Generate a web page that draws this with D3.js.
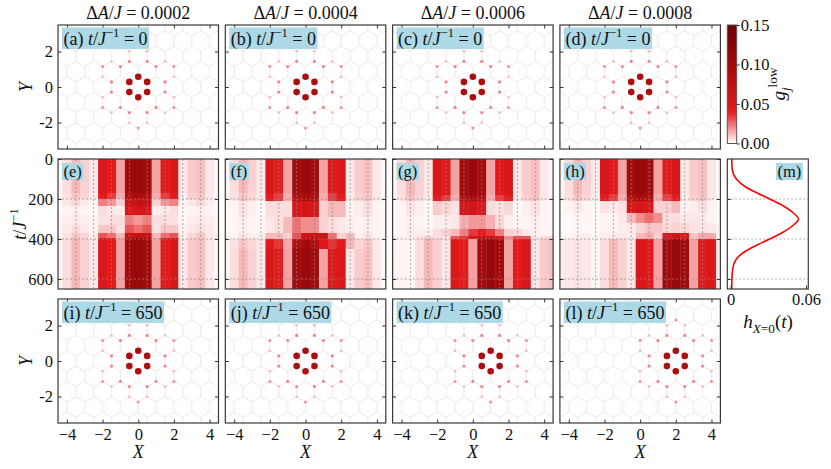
<!DOCTYPE html>
<html>
<head>
  <meta charset="utf-8" />
  <script src="https://d3js.org/d3.v7.min.js"></script>
  <style>
    body { margin: 0; background: #fff; }
    .tick line { stroke: #333; }
  </style>
</head>
<body>
<script>
  // ---- data ----
  var deltaA = ["0.0002", "0.0004", "0.0006", "0.0008"];
  var topLetters = ["a", "b", "c", "d"];
  var midLetters = ["e", "f", "g", "h"];
  var botLetters = ["i", "j", "k", "l"];
  var finalCenter = [0, 0, 1, 2];          // X of the localized state at t = 650
  var xTicks = [-4, -2, 0, 2, 4];
  var yTicks = [-2, 0, 2];
  var tTicks = [0, 200, 400, 600];
  var gridX = [-3.5, -2.5, -1.5, -0.5, 0.5, 1.5, 2.5, 3.5];
  var gridT = [200, 400, 600];
  var cbTicks = [0, 0.05, 0.10, 0.15];

  // sites of the localized state, relative to its plaquette centre: [dX, dY, g]
  var stateSites = [
    [0, 0.577, 0.09], [0.5, 0.289, 0.09], [0.5, -0.289, 0.09],
    [0, -0.577, 0.09], [-0.5, -0.289, 0.09], [-0.5, 0.289, 0.09],
    [1.5, 0.289, 0.021], [1.5, -0.289, 0.021], [-1.5, 0.289, 0.021], [-1.5, -0.289, 0.021],
    [1, 1.155, 0.021], [-1, 1.155, 0.021], [1, -1.155, 0.021], [-1, -1.155, 0.021],
    [0.5, 1.443, 0.021], [-0.5, 1.443, 0.021], [0.5, -1.443, 0.021], [-0.5, -1.443, 0.021],
    [0, 2.309, 0.019], [0, -2.309, 0.019],
    [2, 1.155, 0.019], [-2, 1.155, 0.019], [2, -1.155, 0.019], [-2, -1.155, 0.019],
    [0.5, 2.021, 0.013], [-0.5, 2.021, 0.013], [0.5, -2.021, 0.013], [-0.5, -2.021, 0.013],
    [1.5, 1.443, 0.013], [-1.5, 1.443, 0.013], [1.5, -1.443, 0.013], [-1.5, -1.443, 0.013],
    [2, 0.577, 0.013], [-2, 0.577, 0.013], [2, -0.577, 0.013], [-2, -0.577, 0.013]
  ];

  // heat map columns (site X positions) and time bands [t0, t1, values per column]
  var colX = [-4.5, -4, -3.5, -3, -2.5, -2, -1.5, -1, -0.5, 0, 0.5, 1, 1.5, 2, 2.5, 3, 3.5, 4, 4.5];
  var prof0 = [0.002, 0.006, 0.012, 0.008, 0.004, 0.05, 0.042, 0.016, 0.10, 0.11, 0.10, 0.016, 0.042, 0.05, 0.004, 0.009, 0.011, 0.004, 0.001];
  var profG = [0.002, 0.002, 0.002, 0.006, 0.012, 0.008, 0.004, 0.05, 0.042, 0.016, 0.10, 0.11, 0.10, 0.016, 0.042, 0.05, 0.004, 0.009, 0.011];
  var profH = [0.003, 0.004, 0.005, 0.004, 0.002, 0.006, 0.012, 0.008, 0.004, 0.05, 0.042, 0.016, 0.10, 0.11, 0.10, 0.016, 0.042, 0.05, 0.004];
  var prof1 = [0.002, 0.005, 0.01, 0.007, 0.003, 0.04, 0.034, 0.014, 0.085, 0.095, 0.085, 0.014, 0.034, 0.04, 0.003, 0.008, 0.01, 0.004, 0.001];

  var heatE = [
    [0, 170, prof0],
    [170, 200, prof1],
    [200, 235, [0.001, 0.004, 0.007, 0.004, 0.002, 0.022, 0.018, 0.008, 0.065, 0.07, 0.065, 0.008, 0.018, 0.022, 0.002, 0.004, 0.007, 0.003, 0.001]],
    [235, 280, [0.001, 0.002, 0.003, 0.002, 0.001, 0.006, 0.004, 0.003, 0.05, 0.055, 0.05, 0.003, 0.004, 0.006, 0.001, 0.002, 0.003, 0.002, 0.001]],
    [280, 330, [0.002, 0.003, 0.004, 0.003, 0.002, 0.005, 0.006, 0.006, 0.022, 0.018, 0.022, 0.006, 0.006, 0.005, 0.002, 0.003, 0.004, 0.003, 0.002]],
    [330, 370, [0.002, 0.004, 0.006, 0.004, 0.002, 0.01, 0.01, 0.005, 0.03, 0.025, 0.03, 0.005, 0.01, 0.01, 0.002, 0.004, 0.006, 0.004, 0.002]],
    [370, 395, [0.002, 0.005, 0.01, 0.007, 0.003, 0.03, 0.025, 0.012, 0.065, 0.07, 0.065, 0.012, 0.025, 0.03, 0.003, 0.007, 0.01, 0.004, 0.002]],
    [395, 650, prof0]
  ];
  var heatF = [
    [0, 170, prof0],
    [170, 210, prof1],
    [210, 290, [0.001, 0.002, 0.005, 0.003, 0.001, 0.006, 0.006, 0.006, 0.05, 0.055, 0.05, 0.008, 0.012, 0.012, 0.002, 0.003, 0.006, 0.002, 0.001]],
    [290, 370, [0.001, 0.002, 0.003, 0.002, 0.002, 0.004, 0.006, 0.012, 0.025, 0.02, 0.02, 0.008, 0.006, 0.004, 0.003, 0.002, 0.003, 0.002, 0.001]],
    [370, 400, [0.001, 0.002, 0.005, 0.003, 0.003, 0.012, 0.012, 0.008, 0.03, 0.06, 0.065, 0.06, 0.025, 0.008, 0.012, 0.003, 0.005, 0.002, 0.001]],
    [400, 450, [0.002, 0.005, 0.01, 0.007, 0.004, 0.042, 0.036, 0.015, 0.085, 0.1, 0.085, 0.045, 0.036, 0.042, 0.012, 0.007, 0.01, 0.004, 0.001]],
    [450, 650, prof0]
  ];
  var heatG = [
    [0, 180, prof0],
    [180, 210, prof1],
    [210, 280, [0.001, 0.002, 0.005, 0.003, 0.001, 0.009, 0.007, 0.005, 0.055, 0.06, 0.05, 0.006, 0.005, 0.007, 0.001, 0.003, 0.005, 0.002, 0.001]],
    [280, 350, [0.001, 0.002, 0.003, 0.002, 0.001, 0.003, 0.003, 0.004, 0.014, 0.018, 0.018, 0.014, 0.007, 0.003, 0.002, 0.002, 0.003, 0.002, 0.001]],
    [350, 385, [0.001, 0.002, 0.003, 0.003, 0.003, 0.006, 0.008, 0.012, 0.022, 0.035, 0.04, 0.035, 0.022, 0.008, 0.007, 0.004, 0.003, 0.002, 0.002]],
    [385, 400, [0.002, 0.002, 0.003, 0.005, 0.008, 0.006, 0.005, 0.03, 0.035, 0.055, 0.065, 0.065, 0.055, 0.02, 0.03, 0.03, 0.004, 0.006, 0.008]],
    [400, 650, profG]
  ];
  var heatH = [
    [0, 175, prof0],
    [175, 210, prof1],
    [210, 270, [0.001, 0.002, 0.004, 0.002, 0.001, 0.005, 0.004, 0.005, 0.05, 0.055, 0.05, 0.008, 0.008, 0.012, 0.002, 0.003, 0.006, 0.002, 0.001]],
    [270, 320, [0.001, 0.001, 0.002, 0.002, 0.001, 0.002, 0.002, 0.004, 0.012, 0.02, 0.025, 0.02, 0.006, 0.006, 0.004, 0.004, 0.004, 0.002, 0.001]],
    [320, 370, [0.001, 0.001, 0.002, 0.001, 0.001, 0.002, 0.002, 0.003, 0.004, 0.007, 0.01, 0.01, 0.007, 0.008, 0.007, 0.005, 0.005, 0.004, 0.002]],
    [370, 400, [0.001, 0.002, 0.003, 0.003, 0.001, 0.003, 0.004, 0.004, 0.003, 0.012, 0.015, 0.008, 0.05, 0.06, 0.05, 0.01, 0.015, 0.015, 0.002]],
    [400, 650, profH]
  ];
  var heatData = [heatE, heatF, heatG, heatH];

  // panel (m): h_{X=0}(t)
  var hT = [0, 50, 100, 140, 170, 200, 235, 270, 300, 330, 365, 400, 430, 460, 500, 550, 600, 650];
  var hV = [0.0008, 0.0012, 0.0045, 0.012, 0.021, 0.031, 0.042, 0.050, 0.054, 0.050, 0.042, 0.031, 0.021, 0.012, 0.0045, 0.0016, 0.001, 0.0008];

  // ---- layout ----
  var FONT = "'Liberation Serif'";
  var W = 831, H = 469;
  var panelW = 160.5, panelStep = 167.3, left0 = 58;
  var rowTop = [25, 149], rowMid = [159, 289], rowBot = [299, 423];
  var frameColor = "#3a3a3a";

  var cmap = d3.scaleLinear().domain([0, 0.04, 0.15])
    .range(["#ffffff", "#e41a1c", "#6b0000"]).clamp(true);
  var rScale = d3.scaleSqrt().domain([0, 0.09]).range([0, 3.3]);

  var svg = d3.select("body").append("svg")
    .attr("width", W).attr("height", H)
    .style("font-family", FONT);
  var defs = svg.append("defs");

  function mathText(sel, parts, size) {
    var text = sel.append("text").style("font-size", size + "px").style("font-family", FONT).attr("fill", "#111");
    var shift = 0;
    parts.forEach(function(p) {
      var ts = text.append("tspan").text(p.t);
      var target = p.sup ? -0.42 * size : (p.sub ? 0.28 * size : 0);
      if (target !== shift) { ts.attr("dy", target - shift); shift = target; }
      if (p.i) ts.style("font-style", "italic");
      if (p.sup || p.sub) ts.style("font-size", (size * 0.7) + "px");
    });
    return text;
  }

  function boxLabel(g, parts, x, y, anchor, size) {
    var grp = g.append("g");
    var text = mathText(grp, parts, size || 18).attr("x", x).attr("y", y).attr("text-anchor", anchor || "start");
    var bb = text.node().getBBox();
    grp.insert("rect", "text")
      .attr("x", bb.x - 1.5).attr("y", bb.y + 1.5)
      .attr("width", bb.width + 3).attr("height", bb.height - 2)
      .attr("fill", "#add8e6");
  }

  function clipFor(id, x0, y0, w, h) {
    defs.append("clipPath").attr("id", id).append("rect")
      .attr("x", x0).attr("y", y0).attr("width", w).attr("height", h);
    return "url(#" + id + ")";
  }

  function frame(x0, y0, w, h) {
    svg.append("rect").attr("x", x0).attr("y", y0).attr("width", w).attr("height", h)
      .attr("fill", "none").attr("stroke", frameColor).attr("stroke-width", 1.2);
  }

  function styleAxis(g) {
    g.attr("font-family", null).attr("font-size", null);
    g.select(".domain").remove();
    g.selectAll(".tick line").attr("stroke", "#333").attr("stroke-width", 1);
    g.selectAll(".tick text").style("font-family", FONT).style("font-size", "16.5px").attr("fill", "#111");
  }

  // honeycomb plaquette centres
  var hexCentres = [];
  for (var m = -5; m <= 5; m++) {
    for (var n = -8; n <= 8; n++) {
      hexCentres.push([n + m / 2, m * Math.sqrt(3) / 2]);
    }
  }
  var hexR = 1 / Math.sqrt(3);

  function latticePanel(col, rowY, label, centreX, tLabel, showX) {
    var L = left0 + col * panelStep;
    var x = d3.scaleLinear().domain([-4.5, 4.5]).range([L, L + panelW]);
    var y = d3.scaleLinear().domain([-3.5, 3.5]).range([rowY[1], rowY[0]]);
    var g = svg.append("g").attr("clip-path", clipFor("c" + label, L, rowY[0], panelW, rowY[1] - rowY[0]));

    var hexPath = d3.path();
    hexCentres.forEach(function(c) {
      for (var k = 0; k <= 6; k++) {
        var a = Math.PI / 2 + k * Math.PI / 3;
        var px = x(c[0] + hexR * Math.cos(a)), py = y(c[1] + hexR * Math.sin(a));
        if (k === 0) hexPath.moveTo(px, py); else hexPath.lineTo(px, py);
      }
    });
    g.append("path").attr("d", hexPath.toString())
      .attr("fill", "none").attr("stroke", "#f4eaea").attr("stroke-width", 0.8);

    var sites = stateSites.slice().sort(function(a, b) { return a[2] - b[2]; });
    g.selectAll("circle.site").data(sites).enter().append("circle")
      .attr("class", "site")
      .attr("cx", function(d) { return x(centreX + d[0]); })
      .attr("cy", function(d) { return y(d[1]); })
      .attr("r", function(d) { return rScale(d[2]); })
      .attr("fill", function(d) { return cmap(d[2]); });

    frame(L, rowY[0], panelW, rowY[1] - rowY[0]);

    svg.append("g").attr("transform", "translate(" + L + ",0)").call(
      d3.axisLeft(y).tickValues(yTicks).tickSizeInner(-3.5).tickSizeOuter(0).tickPadding(5)
        .tickFormat(col === 0 ? function(d) { return String(d); } : function() { return ""; })
    ).call(styleAxis);
    svg.append("g").attr("transform", "translate(" + (L + panelW) + ",0)").call(
      d3.axisRight(y).tickValues(yTicks).tickSizeInner(-3.5).tickSizeOuter(0).tickFormat(function() { return ""; })
    ).call(styleAxis);
    svg.append("g").attr("transform", "translate(0," + rowY[1] + ")").call(
      d3.axisBottom(x).tickValues(xTicks).tickSizeInner(-3.5).tickSizeOuter(0).tickPadding(5)
        .tickFormat(showX ? d3.format("d") : function() { return ""; })
    ).call(styleAxis);
    svg.append("g").attr("transform", "translate(0," + rowY[0] + ")").call(
      d3.axisTop(x).tickValues(xTicks).tickSizeInner(-3.5).tickSizeOuter(0).tickFormat(function() { return ""; })
    ).call(styleAxis);

    boxLabel(svg, [{ t: "(" + label + ") " }, { t: "t", i: true }, { t: "/" }, { t: "J", i: true },
      { t: "\u22121", sup: true }, { t: " = " + tLabel }], L + 5.5, rowY[0] + 19.5);

    if (col === 0) {
      svg.append("text").attr("transform", "translate(32," + y(0) + ") rotate(-90)")
        .attr("text-anchor", "middle").style("font-size", "18px").style("font-style", "italic")
        .style("font-family", FONT).attr("fill", "#111").text("Y");
    }
    if (showX) {
      svg.append("text").attr("x", x(0)).attr("y", 458)
        .attr("text-anchor", "middle").style("font-size", "18px").style("font-style", "italic")
        .style("font-family", FONT).attr("fill", "#111").text("X");
    }
  }

  function heatPanel(col) {
    var L = left0 + col * panelStep;
    var x = d3.scaleLinear().domain([-4.5, 4.5]).range([L, L + panelW]);
    var t = d3.scaleLinear().domain([0, 650]).range([rowMid[0], rowMid[1]]);
    var g = svg.append("g").attr("clip-path", clipFor("h" + col, L, rowMid[0], panelW, rowMid[1] - rowMid[0]));
    var cw = x(0.5) - x(0);

    heatData[col].forEach(function(band) {
      g.selectAll(null).data(band[2]).enter().append("rect")
        .attr("x", function(d, i) { return x(colX[i] - 0.25); })
        .attr("y", t(band[0]))
        .attr("width", cw + 0.4)
        .attr("height", t(band[1]) - t(band[0]) + 0.4)
        .attr("fill", function(d) { return cmap(d); });
    });

    g.selectAll("line.gx").data(gridX).enter().append("line")
      .attr("x1", function(d) { return x(d); }).attr("x2", function(d) { return x(d); })
      .attr("y1", rowMid[0]).attr("y2", rowMid[1])
      .attr("stroke", "#8a8a8a").attr("stroke-width", 0.7).attr("stroke-dasharray", "2,2");
    g.selectAll("line.gt").data(gridT).enter().append("line")
      .attr("x1", L).attr("x2", L + panelW)
      .attr("y1", function(d) { return t(d); }).attr("y2", function(d) { return t(d); })
      .attr("stroke", "#8a8a8a").attr("stroke-width", 0.7).attr("stroke-dasharray", "2,2");

    frame(L, rowMid[0], panelW, rowMid[1] - rowMid[0]);

    svg.append("g").attr("transform", "translate(" + L + ",0)").call(
      d3.axisLeft(t).tickValues(tTicks).tickSizeInner(-3.5).tickSizeOuter(0).tickPadding(5)
        .tickFormat(col === 0 ? d3.format("d") : function() { return ""; })
    ).call(styleAxis);
    svg.append("g").attr("transform", "translate(" + (L + panelW) + ",0)").call(
      d3.axisRight(t).tickValues(tTicks).tickSizeInner(-3.5).tickSizeOuter(0).tickFormat(function() { return ""; })
    ).call(styleAxis);

    boxLabel(svg, [{ t: "(" + midLetters[col] + ")" }], L + 5.5, rowMid[0] + 17.5, "start", 16.5);
  }

  for (var c = 0; c < 4; c++) {
    var L = left0 + c * panelStep;
    mathText(svg, [{ t: "\u0394" }, { t: "A", i: true }, { t: "/" }, { t: "J", i: true }, { t: " = " + deltaA[c] }], 18)
      .attr("x", L + panelW / 2).attr("y", 19).attr("text-anchor", "middle");
    latticePanel(c, rowTop, topLetters[c], 0, "0", false);
    heatPanel(c);
    latticePanel(c, rowBot, botLetters[c], finalCenter[c], "650", true);
  }

  // t/J^-1 label
  mathText(svg, [{ t: "t", i: true }, { t: "/" }, { t: "J", i: true }, { t: "\u22121", sup: true }], 18)
    .attr("transform", "translate(26,224) rotate(-90)").attr("text-anchor", "middle");

  // ---- panel (m) ----
  var mL = 727.3, mR = 808.3;
  var hx = d3.scaleLinear().domain([-0.0027, 0.0618]).range([mL, mR]);
  var ht = d3.scaleLinear().domain([0, 650]).range([rowMid[0], rowMid[1]]);
  var mg = svg.append("g").attr("clip-path", clipFor("mclip", mL, rowMid[0], mR - mL, rowMid[1] - rowMid[0]));
  mg.selectAll("line.gt").data(gridT).enter().append("line")
    .attr("x1", mL).attr("x2", mR)
    .attr("y1", function(d) { return ht(d); }).attr("y2", function(d) { return ht(d); })
    .attr("stroke", "#8a8a8a").attr("stroke-width", 0.7).attr("stroke-dasharray", "2,2");
  var hLine = d3.line()
    .x(function(d, i) { return hx(hV[i]); })
    .y(function(d) { return ht(d); })
    .curve(d3.curveMonotoneY);
  mg.append("path").attr("d", hLine(hT))
    .attr("fill", "none").attr("stroke", "#ff0000").attr("stroke-width", 1.6);
  frame(mL, rowMid[0], mR - mL, rowMid[1] - rowMid[0]);
  svg.append("g").attr("transform", "translate(" + mL + ",0)").call(
    d3.axisLeft(ht).tickValues(gridT).tickSizeInner(-3.5).tickSizeOuter(0).tickFormat(function() { return ""; })
  ).call(styleAxis);
  svg.append("g").attr("transform", "translate(0," + rowMid[1] + ")").call(
    d3.axisBottom(hx).tickValues([0, 0.06]).tickSizeInner(-3.5).tickSizeOuter(0).tickPadding(4)
      .tickFormat(function(d) { return d === 0 ? "0" : "0.06"; })
  ).call(styleAxis);
  boxLabel(svg, [{ t: "(m)" }], mR - 7, rowMid[0] + 17.5, "end", 16.5);
  mathText(svg, [{ t: "h", i: true }, { t: "X", sub: true, i: true }, { t: "=0", sub: true }, { t: "(" },
    { t: "t", i: true }, { t: ")" }], 19)
    .attr("x", 768).attr("y", 328).attr("text-anchor", "middle");

  // ---- colour bar ----
  var cbL = 727.3, cbW = 9.4;
  var cbY = d3.scaleLinear().domain([0, 0.15]).range([143.5, 25]);
  var grad = defs.append("linearGradient").attr("id", "cbgrad")
    .attr("x1", 0).attr("y1", 1).attr("x2", 0).attr("y2", 0);
  d3.range(0, 1.0001, 0.05).forEach(function(f) {
    grad.append("stop").attr("offset", f).attr("stop-color", cmap(f * 0.15));
  });
  svg.append("rect").attr("x", cbL).attr("y", cbY(0.15)).attr("width", cbW)
    .attr("height", cbY(0) - cbY(0.15)).attr("fill", "url(#cbgrad)")
    .attr("stroke", "#555").attr("stroke-width", 1);
  svg.append("g").attr("transform", "translate(" + (cbL + cbW) + ",0)").call(
    d3.axisRight(cbY).tickValues(cbTicks).tickSizeInner(3).tickSizeOuter(0).tickPadding(1)
      .tickFormat(d3.format(".2f"))
  ).call(styleAxis);
  mathText(svg, [{ t: "g", i: true }, { t: "j", sub: true, i: true }, { t: "low", sup: true }], 19)
    .attr("transform", "translate(785,84) rotate(-90)").attr("text-anchor", "middle");
</script>
</body>
</html>
